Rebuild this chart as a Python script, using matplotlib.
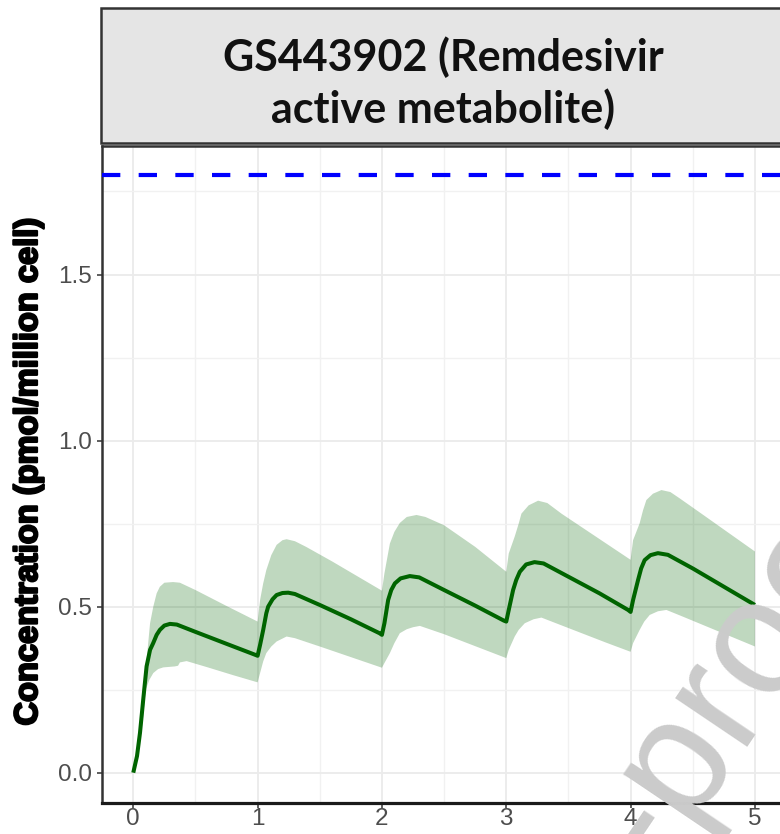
import numpy as np
import matplotlib
matplotlib.use("Agg")
import matplotlib.pyplot as plt
from matplotlib import font_manager
from matplotlib.patches import Rectangle
import matplotlib.patheffects as pe

# ---------------- data ----------------
t_mean = [0, 0.03, 0.054, 0.08, 0.107, 0.135, 0.16, 0.188, 0.214, 0.25, 0.295, 0.35, 0.5, 0.75, 0.98, 1.0,
          1.02, 1.045, 1.07, 1.085, 1.12, 1.153, 1.2, 1.246, 1.3, 1.5, 1.75, 1.98, 2.0,
          2.02, 2.05, 2.075, 2.104, 2.15, 2.224, 2.3, 2.5, 2.75, 2.98, 3.0,
          3.02, 3.055, 3.08, 3.109, 3.16, 3.227, 3.3, 3.5, 3.75, 3.98, 4.0,
          4.02, 4.06, 4.085, 4.113, 4.16, 4.22, 4.3, 4.5, 4.75, 5.0]
c_mean = [0, 0.05, 0.12, 0.22, 0.32, 0.37, 0.39, 0.415, 0.43, 0.443, 0.448, 0.446, 0.424, 0.388, 0.355, 0.352,
          0.385, 0.43, 0.48, 0.50, 0.522, 0.535, 0.541, 0.542, 0.538, 0.505, 0.462, 0.42, 0.415,
          0.45, 0.52, 0.55, 0.57, 0.585, 0.592, 0.588, 0.55, 0.503, 0.458, 0.455,
          0.49, 0.55, 0.58, 0.605, 0.627, 0.634, 0.63, 0.59, 0.54, 0.49, 0.484,
          0.52, 0.58, 0.615, 0.64, 0.655, 0.661, 0.656, 0.615, 0.56, 0.505]

t_upper = [0, 0.054, 0.08, 0.1, 0.12, 0.135, 0.161, 0.188, 0.214, 0.25, 0.32, 0.375, 0.5, 0.75, 1.0,
           1.02, 1.045, 1.07, 1.11, 1.153, 1.2, 1.233, 1.3, 1.39, 1.6, 1.8, 2.0,
           2.02, 2.064, 2.1, 2.144, 2.2, 2.278, 2.35, 2.5, 2.75, 3.0,
           3.02, 3.068, 3.1, 3.122, 3.18, 3.256, 3.33, 3.444, 3.7, 4.0,
           4.02, 4.073, 4.1, 4.127, 4.18, 4.248, 4.32, 4.395, 4.6, 4.8, 5.0]
c_upper = [0, 0.13, 0.24, 0.31, 0.39, 0.45, 0.50, 0.54, 0.56, 0.572, 0.574, 0.572, 0.55, 0.502, 0.455,
           0.52, 0.57, 0.61, 0.655, 0.686, 0.70, 0.703, 0.697, 0.68, 0.636, 0.592, 0.548,
           0.60, 0.69, 0.725, 0.752, 0.77, 0.776, 0.77, 0.745, 0.68, 0.605,
           0.66, 0.711, 0.75, 0.78, 0.805, 0.819, 0.812, 0.78, 0.716, 0.641,
           0.70, 0.751, 0.79, 0.821, 0.84, 0.851, 0.845, 0.826, 0.772, 0.719, 0.666]

t_lower = [0, 0.054, 0.08, 0.1, 0.13, 0.161, 0.2, 0.241, 0.335, 0.36, 0.375, 0.429, 0.6, 0.8, 1.0,
           1.02, 1.045, 1.07, 1.11, 1.153, 1.233, 1.3, 1.5, 1.75, 2.0,
           2.02, 2.064, 2.1, 2.144, 2.2, 2.25, 2.305, 2.5, 2.75, 3.0,
           3.02, 3.068, 3.1, 3.149, 3.22, 3.283, 3.4, 3.6, 3.8, 4.0,
           4.02, 4.073, 4.11, 4.154, 4.22, 4.288, 4.4, 4.6, 4.8, 5.0]
c_lower = [0, 0.09, 0.17, 0.25, 0.28, 0.30, 0.312, 0.317, 0.32, 0.322, 0.332, 0.336, 0.317, 0.294, 0.272,
           0.30, 0.335, 0.36, 0.38, 0.395, 0.41, 0.405, 0.38, 0.348, 0.316,
           0.33, 0.36, 0.39, 0.42, 0.432, 0.438, 0.442, 0.417, 0.381, 0.345,
           0.37, 0.41, 0.43, 0.45, 0.462, 0.467, 0.45, 0.421, 0.392, 0.364,
           0.39, 0.43, 0.455, 0.475, 0.486, 0.49, 0.473, 0.442, 0.411, 0.38]

threshold = 1.8
x_ticks = [0, 1, 2, 3, 4, 5]
y_ticks = [0.0, 0.5, 1.0, 1.5]
y_tick_labels = ["0.0", "0.5", "1.0", "1.5"]
strip_title = "GS443902 (Remdesivir\nactive metabolite)"
y_label = "Concentration (pmol/million cell)"
watermark = "Journal Pre-proof"

# ---------------- fonts ----------------
def has_font(name):
    try:
        font_manager.findfont(font_manager.FontProperties(family=name), fallback_to_default=False)
        return True
    except Exception:
        return False

narrow = "Liberation Sans Narrow" if has_font("Liberation Sans Narrow") else "Liberation Sans"
ylab_size = 27.5 if narrow == "Liberation Sans Narrow" else 23.5

# ---------------- figure ----------------
W, H = 780, 834
fig = plt.figure(figsize=(W / 100, H / 100), dpi=100)
fig.patch.set_facecolor("white")

def fx(px):
    return px / W

def fy(py):
    return 1 - py / H

ax_left, ax_right, ax_top, ax_bot = 101.7, 786.0, 146.0, 802.7
ax = fig.add_axes([fx(ax_left), fy(ax_bot), (ax_right - ax_left) / W, (ax_bot - ax_top) / H])
ax.set_facecolor("white")
ax.set_xlim(-0.254, 5.25)
ax.set_ylim(-0.0904, 1.887)

ax.set_xticks(x_ticks)
ax.set_xticks([0.5, 1.5, 2.5, 3.5, 4.5], minor=True)
ax.set_yticks(y_ticks)
ax.set_yticklabels(y_tick_labels)
ax.set_yticks([0.25, 0.75, 1.25, 1.75], minor=True)
ax.grid(which="major", color="#EBEBEB", linewidth=1.3, zorder=0)
ax.grid(which="minor", color="#F1F1F1", linewidth=1.0, zorder=0)
ax.set_axisbelow(True)

ax.tick_params(axis="both", which="major", length=3.6, width=1.1, color="#333333",
               labelcolor="#4D4D4D", labelsize=17.5)
ax.tick_params(axis="x", which="major", pad=0.5)
ax.tick_params(axis="y", which="major", pad=3.4)
ax.tick_params(which="minor", length=0)
for lab in ax.get_xticklabels() + ax.get_yticklabels():
    lab.set_fontfamily("Liberation Sans")

for side in ["left", "top"]:
    ax.spines[side].set_color("#333333")
    ax.spines[side].set_linewidth(1.8)
ax.spines["bottom"].set_color("#1A1A1A")
ax.spines["bottom"].set_linewidth(2.3)
ax.spines["right"].set_visible(False)

# ribbon
poly_x = np.concatenate([t_upper, t_lower[::-1]])
poly_y = np.concatenate([c_upper, c_lower[::-1]])
ax.fill(poly_x, poly_y, color="#006400", alpha=0.25, linewidth=0, zorder=2)
# mean line
ax.plot(t_mean, c_mean, color="#006400", linewidth=2.9, solid_capstyle="butt",
        solid_joinstyle="round", zorder=3)
# threshold
ax.axhline(threshold, color="#0000FF", linewidth=3.0, linestyle=(0, (4.4, 4.4)), zorder=3)

# strip
strip = Rectangle((fx(101.0), fy(143.0)), (790 - 101.0) / W, (143.0 - 8.0) / H,
                  transform=fig.transFigure, facecolor="#E5E5E5", edgecolor="#333333",
                  linewidth=1.8, zorder=1)
fig.patches.append(strip)
fig.text(fx(443.5), fy(83), strip_title, ha="center", va="center", fontsize=31,
         fontweight="bold", family=["Lato", "DejaVu Sans"], color="#111111",
         linespacing=1.3, zorder=5)

# y label
fig.text(fx(28.5), fy(472), y_label, rotation=90, ha="center", va="center",
         fontsize=ylab_size, fontweight="bold", family=[narrow, "DejaVu Sans"], color="black",
         path_effects=[pe.withStroke(linewidth=1.6, foreground="black")])

# watermark
theta = 56.0
em = 165.0
ct, st = np.cos(np.radians(theta)), np.sin(np.radians(theta))
p_start = np.array([690.0, 832.0])
start = p_start - 5.446 * em * np.array([ct, -st])
fig.text(fx(start[0]), fy(start[1]), watermark, rotation=theta, rotation_mode="anchor",
         ha="left", va="baseline", fontsize=em / 1.389, family=["Liberation Sans"],
         color="#CBCBCB", zorder=10)

fig.savefig("out.png", dpi=100, facecolor="white")
